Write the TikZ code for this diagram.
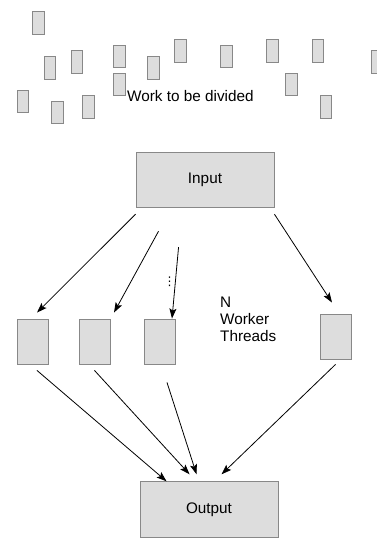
\documentclass[tikz,border=0pt]{standalone}
\usepackage{fontspec}
\setmainfont{Liberation Sans}
\newfontfamily\symfont{DejaVu Sans}
\usetikzlibrary{arrows.meta}
\definecolor{boxfill}{RGB}{221,221,221}
\definecolor{boxline}{RGB}{136,136,136}
\begin{document}
\begin{tikzpicture}[x=1pt, y=-1pt,
  every node/.style={font=\fontsize{15.3}{16.7}\selectfont, inner sep=0pt},
  chunk/.style={draw=boxline, fill=boxfill, line width=0.9pt, minimum width=11.5pt, minimum height=22.5pt},
  worker/.style={draw=boxline, fill=boxfill, line width=0.9pt, minimum width=31pt, minimum height=45pt},
  bigbox/.style={draw=boxline, fill=boxfill, line width=0.9pt, minimum width=138pt, minimum height=55.5pt},
  arr/.style={-{Stealth[length=10pt,width=7pt,inset=2pt]}, line width=0.8pt}]
  \useasboundingbox (0,0) rectangle (377,538);
  % pieces of work
  \node[chunk] (c1) at (38.5,23) {}; \node[chunk] (c2) at (50,68) {}; \node[chunk] (c3) at (77,62) {};
  \node[chunk] (c4) at (119.5,56.5) {}; \node[chunk] (c5) at (119.5,84.5) {}; \node[chunk] (c6) at (153.5,68) {};
  \node[chunk] (c7) at (180.5,51) {}; \node[chunk] (c8) at (226.5,56.5) {}; \node[chunk] (c9) at (272.5,51) {};
  \node[chunk] (c10) at (318,51) {}; \node[chunk] (c11) at (377,62) {}; \node[chunk] (c12) at (291.5,84.5) {};
  \node[chunk] (c13) at (23,101.5) {}; \node[chunk] (c14) at (57.5,112.5) {}; \node[chunk] (c15) at (88.5,107) {};
  \node[chunk] (c16) at (326,107) {};
  \node[anchor=base west] (work) at (127,101) {Work to be divided};
  % input / output
  \node[bigbox] (in) at (205,180) {Input};
  \node[bigbox] (out) at (209,509.5) {Output};
  % workers
  \node[worker] (w1) at (32.5,341.5) {}; \node[worker] (w2) at (94.5,341.5) {};
  \node[worker] (w3) at (159.5,341.5) {}; \node[worker] (w4) at (335.5,336.5) {};
  \node (dots) at (169.5,282) {\symfont\fontsize{12}{12}\selectfont ⋮};
  \node[anchor=north west, align=left] (n) at (220,297) {N\\Worker\\Threads};
  % split
  \draw[arr] ([yshift=-6pt]in.south west) -- ([xshift=4.5pt,yshift=6pt]w1.north);
  \draw[arr] ([xshift=23pt,yshift=-23pt]in.south west) -- ([xshift=19.5pt,yshift=6pt]w2.north);
  \draw[arr] ([xshift=43pt,yshift=-39pt]in.south west) -- ([xshift=12.5pt]w3.north);
  \draw[arr] ([yshift=-6pt]in.south east) -- ([xshift=-3.5pt,yshift=11pt]w4.north);
  % join
  \draw[arr] ([xshift=4.5pt,yshift=-6pt]w1.south) -- ([xshift=27pt]out.north west);
  \draw[arr] ([yshift=-6pt]w2.south) -- ([xshift=50pt,yshift=7pt]out.north west);
  \draw[arr] ([xshift=7.5pt,yshift=-18pt]w3.south) -- ([xshift=57pt,yshift=7pt]out.north west);
  \draw[arr] ([yshift=-5pt]w4.south) -- ([xshift=82pt,yshift=7pt]out.north west);
\end{tikzpicture}
\end{document}
